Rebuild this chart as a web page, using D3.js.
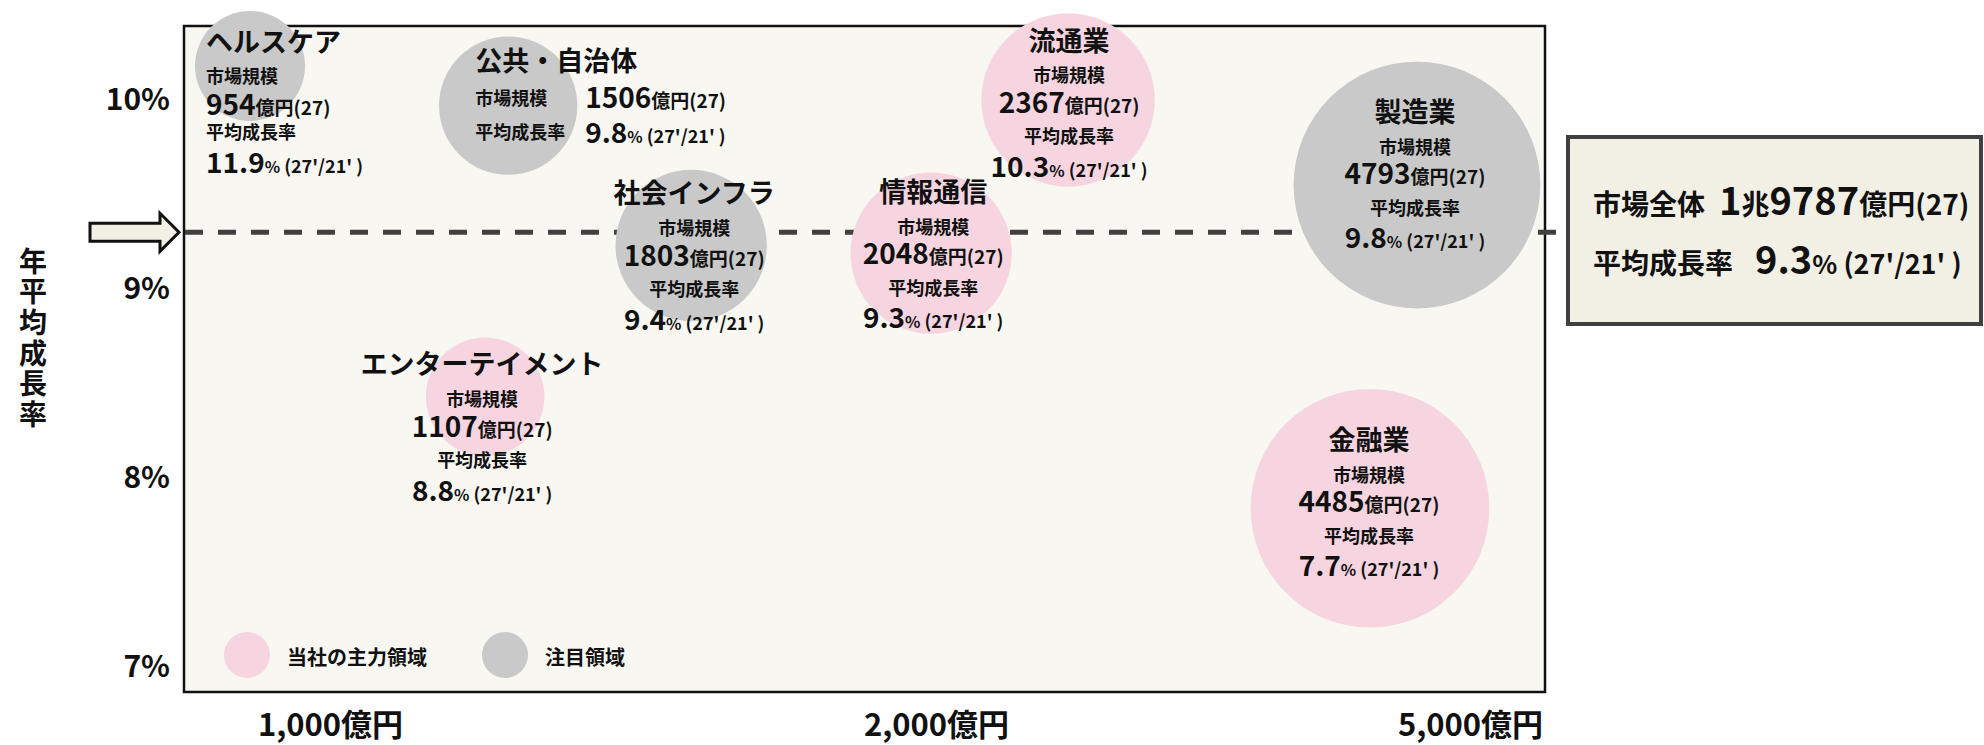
<!DOCTYPE html>
<html>
<head>
<meta charset="utf-8">
<script src="https://cdn.jsdelivr.net/npm/d3@7"></script>
<style>
  body { margin: 0; background: #fff; }
  svg text { font-family: "Noto Sans CJK JP", "Noto Sans", sans-serif; font-weight: 700; fill: #111; }
</style>
</head>
<body>
<svg id="chart" width="1984" height="745"></svg>
<script>
// --- data ---
const sectors    = ["ヘルスケア", "公共・自治体", "社会インフラ", "情報通信", "流通業", "製造業", "金融業", "エンターテイメント"];
const marketSize = [954, 1506, 1803, 2048, 2367, 4793, 4485, 1107];   // 億円 (27)
const growthRate = [11.9, 9.8, 9.4, 9.3, 10.3, 9.8, 7.7, 8.8];        // % (27'/21')
const focusType  = ["注目", "注目", "注目", "主力", "主力", "注目", "主力", "主力"];
// where each bubble sits on the (schematic) axes, in axis units
const plotSize   = [868, 1294, 1596, 1992, 2742, 4702, 4438, 1256];
const plotRate   = [10.18, 9.97, 9.23, 9.19, 10.0, 9.55, 7.84, 8.43];

const xTicks = [1000, 2000, 5000];
const yTicks = [7, 8, 9, 10];
const totalMarket = "9787";      // 1兆9787億円
const totalRate = 9.3;

const legendItems = [["当社の主力領域", "主力"], ["注目領域", "注目"]];

// --- styling ---
const colorByType = { "主力": "#f7d5e0", "注目": "#c9c9c9" };

const svg = d3.select("#chart");
const frame = { left: 184, top: 26, right: 1545, bottom: 692 };

const x = d3.scaleLinear().domain(xTicks).range([330, 936, 1470]);
const y = d3.scaleLinear().domain([7, 10]).range([667, 100]);
const r = d3.scaleSqrt().domain([0, 5000]).range([0, 126]);

// plot frame
svg.append("rect")
  .attr("x", frame.left).attr("y", frame.top)
  .attr("width", frame.right - frame.left).attr("height", frame.bottom - frame.top)
  .attr("fill", "#f8f7f2").attr("stroke", "#111").attr("stroke-width", 2.5);

// average line
svg.append("line")
  .attr("x1", frame.left + 1).attr("x2", 1568)
  .attr("y1", y(totalRate)).attr("y2", y(totalRate))
  .attr("stroke", "#404040").attr("stroke-width", 5)
  .attr("stroke-dasharray", "18,15");

// arrow pointing at the line
const ay = y(totalRate);
svg.append("polygon")
  .attr("points", [[90, ay - 9], [160, ay - 9], [160, ay - 19], [179, ay], [160, ay + 19], [160, ay + 9], [90, ay + 9]].join(" "))
  .attr("fill", "#f2f0e4").attr("stroke", "#111").attr("stroke-width", 3);

// y axis
const yAxis = svg.append("g")
  .attr("transform", `translate(${frame.left},0)`)
  .call(d3.axisLeft(y).tickValues(yTicks).tickFormat(d => d + "%").tickSize(0).tickPadding(14));
yAxis.select(".domain").remove();
yAxis.selectAll("text").style("font-size", "30px").attr("fill", "#111")
  .style("font-family", '"Noto Sans CJK JP", sans-serif').style("font-weight", 700);

// y title, written vertically
svg.append("text")
  .attr("x", 33).attr("y", 247)
  .style("writing-mode", "vertical-rl")
  .style("font-size", "28px")
  .style("letter-spacing", "2.7px")
  .text("年平均成長率");

// x axis
const xAxis = svg.append("g")
  .attr("transform", `translate(0,${frame.bottom})`)
  .call(d3.axisBottom(x).tickValues(xTicks).tickFormat(d => d3.format(",")(d) + "億円").tickSize(0).tickPadding(22));
xAxis.select(".domain").remove();
xAxis.selectAll("text").style("font-size", "31px").attr("fill", "#111")
  .style("font-family", '"Noto Sans CJK JP", sans-serif').style("font-weight", 700);

// bubbles
const rows = sectors.map((s, i) => ({
  name: s, size: marketSize[i], rate: growthRate[i], type: focusType[i],
  cx: x(plotSize[i]), cy: y(plotRate[i])
}));

svg.append("g").selectAll("circle")
  .data(rows)
  .join("circle")
  .attr("cx", d => d.cx).attr("cy", d => d.cy)
  .attr("r", d => r(d.size))
  .attr("fill", d => colorByType[d.type]);

// label layout (offsets from bubble centre)
const stdRows = [0, 35, 62, 96, 126];
const labelLayout = {
  "ヘルスケア":       { mode: "left", dx: -44, dy: -24, rows: [0, 35, 63, 91, 121] },
  "公共・自治体":     { mode: "side", dx: -33, dy: -44 },
  "社会インフラ":     { mode: "center", dx: 3, dy: -52, rows: stdRows },
  "情報通信":         { mode: "center", dx: 2, dy: -61, rows: stdRows },
  "流通業":           { mode: "center", dx: 1, dy: -59, rows: stdRows },
  "製造業":           { mode: "center", dx: -2, dy: -73, rows: stdRows },
  "金融業":           { mode: "center", dx: -1, dy: -68, rows: stdRows },
  "エンターテイメント": { mode: "center", dx: -3, dy: -32, rows: stdRows }
};

function line(g, px, py, anchor, parts) {
  const main = d3.max(parts, p => p[1]);
  const t = g.append("text").attr("x", px).attr("y", py + main * 0.36).attr("text-anchor", anchor);
  parts.forEach(p => t.append("tspan").style("font-size", p[1] + "px").text(p[0]));
}

const labels = svg.append("g");
rows.forEach(d => {
  const L = labelLayout[d.name];
  const sizeParts = [[String(d.size), 28], ["億円(27)", 19]];
  const rateParts = [[d.rate.toFixed(1), 28], ["%", 16], [" (27'/21' )", 18]];
  if (L.mode === "side") {
    const lx = d.cx + L.dx, vx = d.cx + 77;
    line(labels, lx, d.cy + L.dy, "start", [[d.name, 27]]);
    line(labels, lx, d.cy - 7, "start", [["市場規模", 18]]);
    line(labels, lx, d.cy + 27, "start", [["平均成長率", 18]]);
    line(labels, vx, d.cy - 8, "start", sizeParts);
    line(labels, vx, d.cy + 27, "start", rateParts);
  } else {
    const anchor = L.mode === "left" ? "start" : "middle";
    const lx = d.cx + L.dx, ny = d.cy + L.dy;
    line(labels, lx, ny + L.rows[0], anchor, [[d.name, 27]]);
    line(labels, lx, ny + L.rows[1], anchor, [["市場規模", 18]]);
    line(labels, lx, ny + L.rows[2], anchor, sizeParts);
    line(labels, lx, ny + L.rows[3], anchor, [["平均成長率", 18]]);
    line(labels, lx, ny + L.rows[4], anchor, rateParts);
  }
});

// legend
const legend = svg.append("g");
legendItems.forEach(([label, type], i) => {
  const lx = [247, 505][i];
  legend.append("circle").attr("cx", lx).attr("cy", 655).attr("r", 23).attr("fill", colorByType[type]);
  legend.append("text").attr("x", lx + 40).attr("y", 665).style("font-size", "20px").text(label);
});

// summary box
svg.append("rect")
  .attr("x", 1568).attr("y", 137).attr("width", 413).attr("height", 187)
  .attr("fill", "#f2f0e4").attr("stroke", "#404040").attr("stroke-width", 4);

const t1 = svg.append("text").attr("x", 1593).attr("y", 215);
t1.append("tspan").style("font-size", "28px").text("市場全体");
t1.append("tspan").attr("dx", 14).style("font-size", "38px").text("1");
t1.append("tspan").style("font-size", "28px").text("兆");
t1.append("tspan").style("font-size", "38px").text(totalMarket);
t1.append("tspan").style("font-size", "28px").text("億円(27)");

const t2 = svg.append("text").attr("x", 1593).attr("y", 274);
t2.append("tspan").style("font-size", "28px").text("平均成長率");
t2.append("tspan").attr("dx", 22).style("font-size", "38px").text(totalRate.toFixed(1));
t2.append("tspan").style("font-size", "26px").text("%");
t2.append("tspan").style("font-size", "27px").text(" (27'/21' )");
</script>
</body>
</html>
